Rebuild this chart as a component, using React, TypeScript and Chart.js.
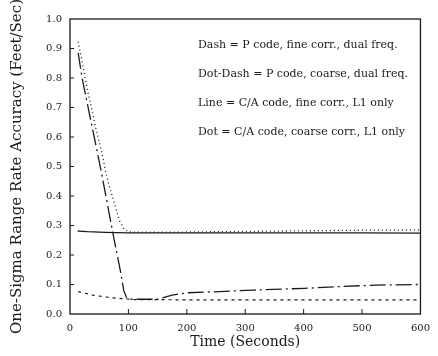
import React, { useEffect, useRef } from "react";
import { Chart, registerables } from "chart.js";

Chart.register(...registerables);

// Time axis (seconds) and series values (feet/sec)
const lineTime = [13, 30, 60, 100, 200, 300, 400, 500, 600];
const lineVals = [0.281, 0.279, 0.277, 0.275, 0.275, 0.275, 0.275, 0.275, 0.274];

const dotTime = [14, 19.5, 25, 30.5, 37, 43, 50, 56, 61, 67, 73.5, 79.5, 85, 92, 100, 150, 200, 300, 400, 500, 600];
const dotVals = [0.923, 0.867, 0.81, 0.754, 0.698, 0.64, 0.584, 0.533, 0.482, 0.434, 0.393, 0.35, 0.315, 0.29, 0.278, 0.277, 0.278, 0.28, 0.282, 0.284, 0.285];

const dashTime = [14, 39, 67, 89, 110, 200, 300, 400, 500, 600];
const dashVals = [0.076, 0.064, 0.056, 0.052, 0.049, 0.048, 0.048, 0.048, 0.048, 0.048];

const dotDashTime = [14, 20.7, 43.5, 53, 75, 86, 92, 97, 103, 150, 156, 175, 201, 256, 313, 369, 402, 463, 524, 592, 600];
const dotDashVals = [0.885, 0.8, 0.58, 0.488, 0.258, 0.149, 0.08, 0.055, 0.05, 0.05, 0.053, 0.064, 0.072, 0.076, 0.081, 0.085, 0.087, 0.093, 0.098, 0.1, 0.1];

const legendLines = [
  "Dash = P code, fine corr., dual freq.",
  "Dot-Dash = P code, coarse, dual freq.",
  "Line = C/A code, fine corr., L1 only",
  "Dot = C/A code, coarse corr., L1 only",
];

const xTitle = "Time (Seconds)";
const yTitle = "One-Sigma Range Rate Accuracy (Feet/Sec)";

const INK = "#1a1a1a";
const SERIF = "'DejaVu Serif', 'Liberation Serif', serif";

const pair = (t: number[], v: number[]) => t.map((x, i) => ({ x, y: v[i] }));

const framePlugin = {
  id: "frame",
  afterDraw(chart: any) {
    const { ctx, chartArea: a, scales } = chart;
    ctx.save();
    ctx.strokeStyle = INK;
    ctx.lineWidth = 1.3;
    ctx.strokeRect(a.left, a.top, a.right - a.left, a.bottom - a.top);
    // inward ticks
    ctx.lineWidth = 1;
    scales.x.ticks.forEach((t: any) => {
      const px = scales.x.getPixelForValue(t.value);
      if (px <= a.left + 1 || px >= a.right - 1) return;
      ctx.beginPath();
      ctx.moveTo(px, a.bottom);
      ctx.lineTo(px, a.bottom - 5);
      ctx.stroke();
    });
    scales.y.ticks.forEach((t: any) => {
      const py = scales.y.getPixelForValue(t.value);
      if (py <= a.top + 1 || py >= a.bottom - 1) return;
      ctx.beginPath();
      ctx.moveTo(a.left, py);
      ctx.lineTo(a.left + 4, py);
      ctx.stroke();
    });
    // annotation legend
    ctx.fillStyle = INK;
    ctx.font = `11px ${SERIF}`;
    ctx.textBaseline = "middle";
    ctx.textAlign = "left";
    legendLines.forEach((s, i) => {
      ctx.fillText(s, a.left + 128, a.top + 26 + i * 29);
    });
    ctx.restore();
  },
};

export default function App() {
  const ref = useRef<HTMLCanvasElement>(null);
  useEffect(() => {
    document.body.style.margin = "0";
    const canvas = ref.current!;
    const base = { pointRadius: 0, borderColor: INK, fill: false, tension: 0 };
    const chart = new Chart(canvas, {
      type: "line",
      data: {
        datasets: [
          { ...base, label: "Line", data: pair(lineTime, lineVals), borderWidth: 1.3 },
          { ...base, label: "Dot", data: pair(dotTime, dotVals), borderWidth: 1.3, borderDash: [1, 3] },
          { ...base, label: "Dash", data: pair(dashTime, dashVals), borderWidth: 1.2, borderDash: [3, 4] },
          { ...base, label: "Dot-Dash", data: pair(dotDashTime, dotDashVals), borderWidth: 1.3, borderDash: [16, 4, 2, 4] },
        ],
      },
      options: {
        animation: false,
        responsive: false,
        devicePixelRatio: 1,
        layout: { padding: { top: 19, right: 10, left: 0, bottom: 0 } },
        plugins: { legend: { display: false }, tooltip: { enabled: false } },
        scales: {
          x: {
            type: "linear",
            min: 0,
            max: 600,
            grid: { display: false, drawTicks: false },
            border: { display: false },
            ticks: { stepSize: 100, color: INK, font: { family: SERIF, size: 10 }, padding: 8, maxRotation: 0 },
            title: { display: true, text: xTitle, color: INK, font: { family: SERIF, size: 14 }, padding: { top: 0, bottom: 5 } },
            afterFit: (s: any) => { s.height = 42; },
          },
          y: {
            type: "linear",
            min: 0,
            max: 1,
            grid: { display: false, drawTicks: false },
            border: { display: false },
            ticks: { stepSize: 0.1, color: INK, font: { family: SERIF, size: 10 }, padding: 8, callback: (v: any) => Number(v).toFixed(1) },
            title: { display: true, text: yTitle, color: INK, font: { family: SERIF, size: 15 }, padding: { top: 8, bottom: 0 } },
            afterFit: (s: any) => { s.width = 70; },
          },
        },
      } as any,
      plugins: [framePlugin],
    });
    return () => chart.destroy();
  }, []);
  return <canvas ref={ref} width={438} height={356} style={{ display: "block" }} />;
}
